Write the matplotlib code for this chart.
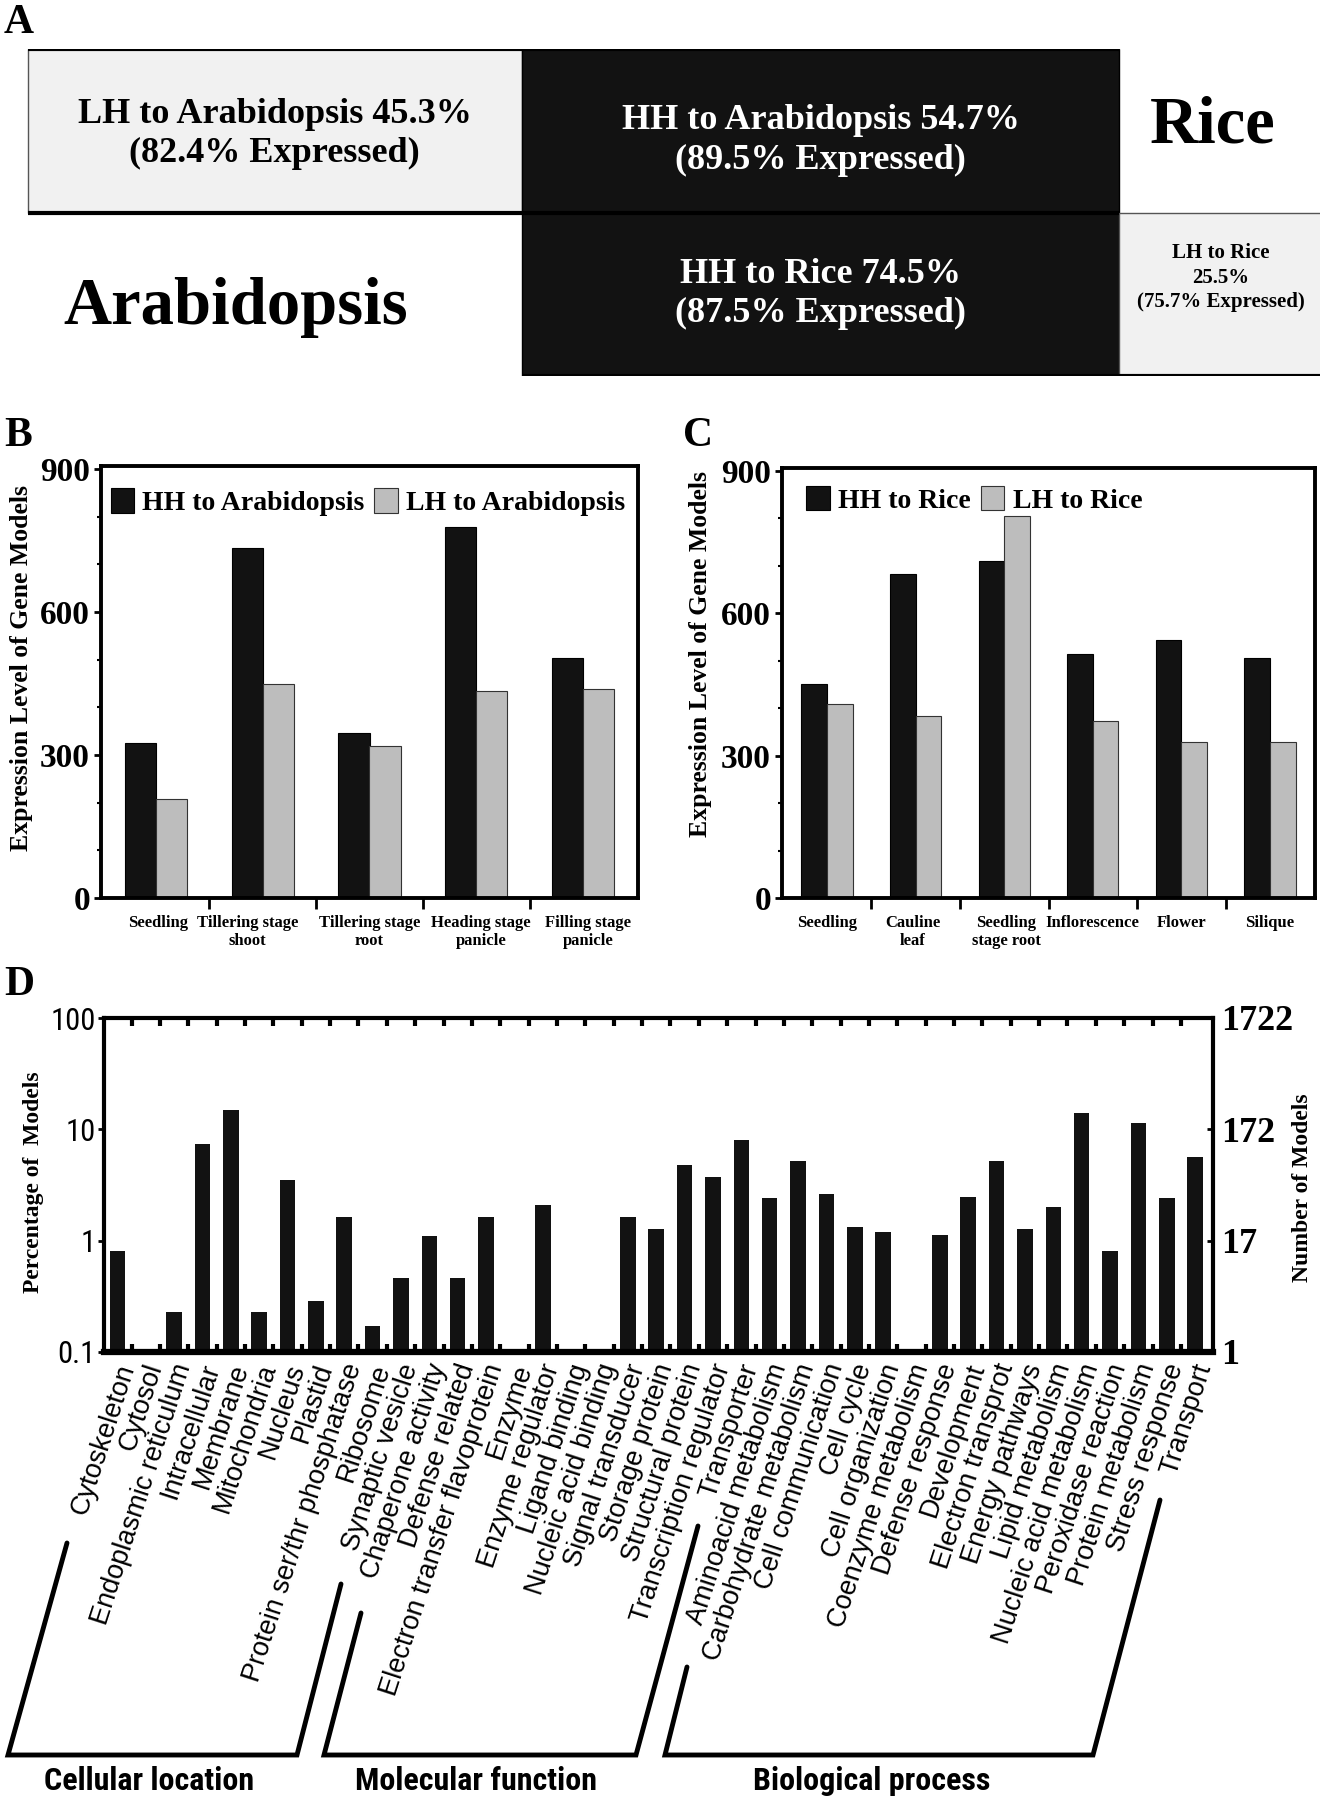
import numpy as np
import matplotlib
matplotlib.use('Agg')
import matplotlib.pyplot as plt
from matplotlib import font_manager
from matplotlib.ticker import NullLocator

# ---------------- data ----------------
# panel A: share of homologs (%) and share expressed (%)
ara_lh_pct, ara_hh_pct = 45.3, 54.7
ara_lh_expr, ara_hh_expr = 82.4, 89.5
rice_hh_pct, rice_lh_pct = 74.5, 25.5
rice_hh_expr, rice_lh_expr = 87.5, 75.7

# panel B
b_tissues = ['Seedling', 'Tillering stage\nshoot', 'Tillering stage\nroot',
             'Heading stage\npanicle', 'Filling stage\npanicle']
hh_ara = [326, 733, 346, 779, 503]
lh_ara = [207, 448, 319, 434, 438]

# panel C
c_tissues = ['Seedling', 'Cauline\nleaf', 'Seedling\nstage root',
             'Inflorescence', 'Flower', 'Silique']
hh_rice = [450, 682, 709, 515, 543, 505]
lh_rice = [409, 383, 805, 373, 329, 329]

# panel D
go_terms = ['Cytoskeleton', 'Cytosol', 'Endoplasmic reticulum', 'Intracellular',
            'Membrane', 'Mitochondria', 'Nucleus', 'Plastid',
            'Protein ser/thr phosphatase', 'Ribosome', 'Synaptic vesicle',
            'Chaperone activity', 'Defense related', 'Electron transfer flavoprotein',
            'Enzyme', 'Enzyme regulator', 'Ligand binding', 'Nucleic acid binding',
            'Signal transducer', 'Storage protein', 'Structural protein',
            'Transcription regulator', 'Transporter', 'Aminoacid metabolism',
            'Carbohydrate metabolism', 'Cell communication', 'Cell cycle',
            'Cell organization', 'Coenzyme metabolism', 'Defense response',
            'Development', 'Electron transprot', 'Energy pathways',
            'Lipid metabolism', 'Nucleic acid metabolism', 'Peroxidase reaction',
            'Protein metabolism', 'Stress response', 'Transport']
go_pct = [0.81, 0, 0.23, 7.4, 15.0, 0.23, 3.5, 0.29,
          1.62, 0.17, 0.46, 1.11, 0.46, 1.62, 0, 2.11, 0, 0, 1.62, 1.28, 4.74,
          3.77, 8.1, 2.41, 5.2, 2.62, 1.34, 1.19, 0, 1.12, 2.49, 5.2, 1.28,
          2.02, 13.9, 0.81, 11.3, 2.41, 5.65]
pct_ticks = [0.1, 1, 10, 100]
pct_labels = ['0.1', '1', '10', '100']
count_labels = ['1', '17', '172', '1722']
groups = ['Cellular location', 'Molecular function', 'Biological process']

# ---------------- style ----------------
fonts = font_manager.fontManager.ttflist
names = {f.name for f in fonts}
narrow, narrow_stretch, narrow_scale = 'Liberation Sans', 'normal', 0.82
for nm in ['Liberation Sans Narrow', 'Roboto Condensed', 'Open Sans Condensed',
           'Noto Sans Condensed', 'DejaVu Sans Condensed']:
    if nm in names:
        narrow, narrow_scale = nm, 1.0
        break
else:
    for f in fonts:
        if f.name in ('Noto Sans', 'DejaVu Sans', 'Open Sans') and f.stretch == 'condensed':
            narrow, narrow_stretch, narrow_scale = f.name, 'condensed', 1.0
            break

plt.rcParams['font.family'] = ['Liberation Serif', 'DejaVu Serif']
plt.rcParams['font.weight'] = 'bold'

W, H = 1320, 1800
fig = plt.figure(figsize=(13.2, 18), dpi=100)


def box(left, top, right, bottom):
    return [left / W, 1 - bottom / H, (right - left) / W, (bottom - top) / H]


dark = '#121212'
light = '#bdbdbd'

# overlay for panel letters and brackets
ov = fig.add_axes([0, 0, 1, 1], zorder=-1)
ov.set_xlim(0, W)
ov.set_ylim(H, 0)
ov.axis('off')
for s, (x, y) in zip('ABCD', [(4, 4), (4, 417), (683, 417), (4, 966)]):
    ov.text(x, y, s, fontsize=30, ha='left', va='top')

# ---------------- panel A ----------------
axA = fig.add_axes(box(0, 49, W, 376))
axA.set_xlim(-522 / 597, (W - 522) / 597)
axA.set_ylim(1.5, -0.5)
axA.axis('off')
top_lh = ara_lh_pct / ara_hh_pct
bot_lh = rice_lh_pct / rice_hh_pct
axA.barh(0, top_lh, left=-top_lh, height=1, color='#f1f1f1', edgecolor='#555555', lw=1)
axA.barh(0, 1, left=0, height=1, color=dark, edgecolor='black', lw=1)
axA.barh(1, 1, left=0, height=1, color=dark, edgecolor='black', lw=1)
axA.barh(1, bot_lh, left=1, height=1, color='#f1f1f1', edgecolor='#555555', lw=1)
axA.hlines([-0.5, 0.5], -top_lh, 1, color='black', lw=3)
axA.hlines([1.5], 0, 1 + bot_lh, color='black', lw=3)
axA.text(-top_lh / 2, 0.02, f'LH to Arabidopsis {ara_lh_pct}%\n({ara_lh_expr}% Expressed)',
         ha='center', va='center', fontsize=26, color='black', linespacing=1.25)
axA.text(0.5, 0.06, f'HH to Arabidopsis {ara_hh_pct}%\n({ara_hh_expr}% Expressed)',
         ha='center', va='center', fontsize=26, color='white', linespacing=1.25)
axA.text(0.5, 1.0, f'HH to Rice {rice_hh_pct}%\n({rice_hh_expr}% Expressed)',
         ha='center', va='center', fontsize=26, color='white', linespacing=1.25)
axA.text(1 + bot_lh / 2, 0.9, f'LH to Rice\n{rice_lh_pct}%\n({rice_lh_expr}% Expressed)',
         ha='center', va='center', fontsize=15, color='black', linespacing=1.3)
axA.text(1.157, -0.03, 'Rice', ha='center', va='center', fontsize=48)
axA.text(-0.48, 1.08, 'Arabidopsis', ha='center', va='center', fontsize=48)


# ---------------- panels B and C ----------------
def expr_panel(rect, tissues, hh, lh, leg, ylab_xy, leg_anchor, label_shift):
    ax = fig.add_axes(rect)
    x = np.arange(len(tissues))
    w = 0.29
    ax.bar(x - w / 2, hh, w, color=dark, edgecolor='black', lw=0.8, label=leg[0])
    ax.bar(x + w / 2, lh, w, color=light, edgecolor='#333333', lw=0.8, label=leg[1])
    ax.set_xlim(-0.51, len(tissues) - 0.49)
    ax.set_ylim(0, 906)
    ax.set_yticks([0, 300, 600, 900])
    ax.set_yticks(np.arange(0, 901, 100), minor=True)
    ax.set_xticks(x[:-1] + 0.5)
    ax.set_xticks(x + np.array(label_shift), tissues, minor=True)
    ax.tick_params(axis='y', which='major', direction='out', length=5, width=2,
                   labelsize=24, pad=3)
    ax.tick_params(axis='y', which='minor', direction='out', length=3, width=1.5)
    ax.tick_params(axis='x', which='major', direction='out', length=8, width=2,
                   labelbottom=False)
    ax.tick_params(axis='x', which='minor', length=0, labelsize=12, pad=12)
    for sp in ax.spines.values():
        sp.set_linewidth(2.8)
    ax.legend(loc='upper left', bbox_to_anchor=leg_anchor, ncol=2, frameon=False,
              fontsize=20, handlelength=0.85, handleheight=1.0, handletextpad=0.3,
              columnspacing=0.35, borderaxespad=0.0)
    fig.text(ylab_xy[0] / W, 1 - ylab_xy[1] / H, 'Expression Level of Gene Models',
             rotation=90, ha='center', va='center', fontsize=18.5)
    return ax


expr_panel(box(101, 466, 638, 898), b_tissues, hh_ara, lh_ara,
           ['HH to Arabidopsis', 'LH to Arabidopsis'], (22, 668), (-0.003, 0.975),
           [0.02, -0.14, 0, 0.04, 0.04])
expr_panel(box(782, 468, 1315, 898), c_tissues, hh_rice, lh_rice,
           ['HH to Rice', 'LH to Rice'], (700, 654), (0.025, 0.985),
           [0, -0.03, 0.02, 0, 0, 0])

# ---------------- panel D ----------------
axD = fig.add_axes(box(104, 1018, 1213, 1352))
xd = np.arange(len(go_terms))
pct = np.array(go_pct)
has = pct > 0
axD.bar(xd[has], pct[has], 0.55, color=dark, log=True)
axD.set_yscale('log')
axD.set_ylim(0.1, 100)
axD.set_xlim(-0.47, len(go_terms) - 1 + 0.63)
axD.set_yticks(pct_ticks, pct_labels)
axD.yaxis.set_minor_locator(NullLocator())
axD.set_xticks(xd[:-1] + 0.5)
axD.set_xticks(xd + 0.35, go_terms, minor=True)
axD.tick_params(axis='x', which='major', direction='in', top=True, bottom=True,
                length=6, width=3, labelbottom=False)
axD.tick_params(axis='x', which='minor', length=0, pad=9)
axD.tick_params(axis='y', which='major', direction='out', length=4, width=2, pad=2)
for lbl in axD.get_xticklabels(minor=True):
    lbl.set_rotation(72)
    lbl.set_rotation_mode('anchor')
    lbl.set_ha('right')
    lbl.set_va('center')
    lbl.set_family('Liberation Sans')
    lbl.set_fontweight('normal')
    lbl.set_fontsize(19.5)
for lbl in axD.get_yticklabels():
    lbl.set_family(narrow)
    lbl.set_fontstretch(narrow_stretch)
    lbl.set_fontweight('normal')
    lbl.set_fontsize(22 * narrow_scale)
for name, sp in axD.spines.items():
    sp.set_linewidth(4.5 if name == 'bottom' else 3)

axR = axD.twinx()
axR.set_yscale('log')
axR.set_ylim(0.1, 100)
axR.set_yticks(pct_ticks, count_labels)
axR.yaxis.set_minor_locator(NullLocator())
axR.tick_params(axis='y', which='major', direction='in', length=4, width=2,
                labelsize=26, pad=6)
for sp in axR.spines.values():
    sp.set_visible(False)

fig.text(34 / W, 1 - 1182 / H, 'Percentage of  Models', rotation=90,
         ha='center', va='center', fontsize=17)
fig.text(1303 / W, 1 - 1188 / H, 'Number of Models', rotation=90,
         ha='center', va='center', fontsize=17)

# group brackets under panel D
brackets = [[(67, 1543), (8, 1755), (297, 1755), (341, 1584)],
            [(361, 1613), (324, 1755), (636, 1755), (698, 1526)],
            [(687, 1667), (665, 1755), (1093, 1755), (1160, 1500)]]
for pts in brackets:
    xs, ys = zip(*pts)
    ov.plot(xs, ys, color='black', lw=3.5, solid_joinstyle='miter', solid_capstyle='round')
for g, gx in zip(groups, [149, 476, 872]):
    ov.text(gx, 1781, g, ha='center', va='center', family=narrow,
            fontstretch=narrow_stretch, fontweight='bold', fontsize=23 * narrow_scale)

fig.savefig('out.png', dpi=100)
